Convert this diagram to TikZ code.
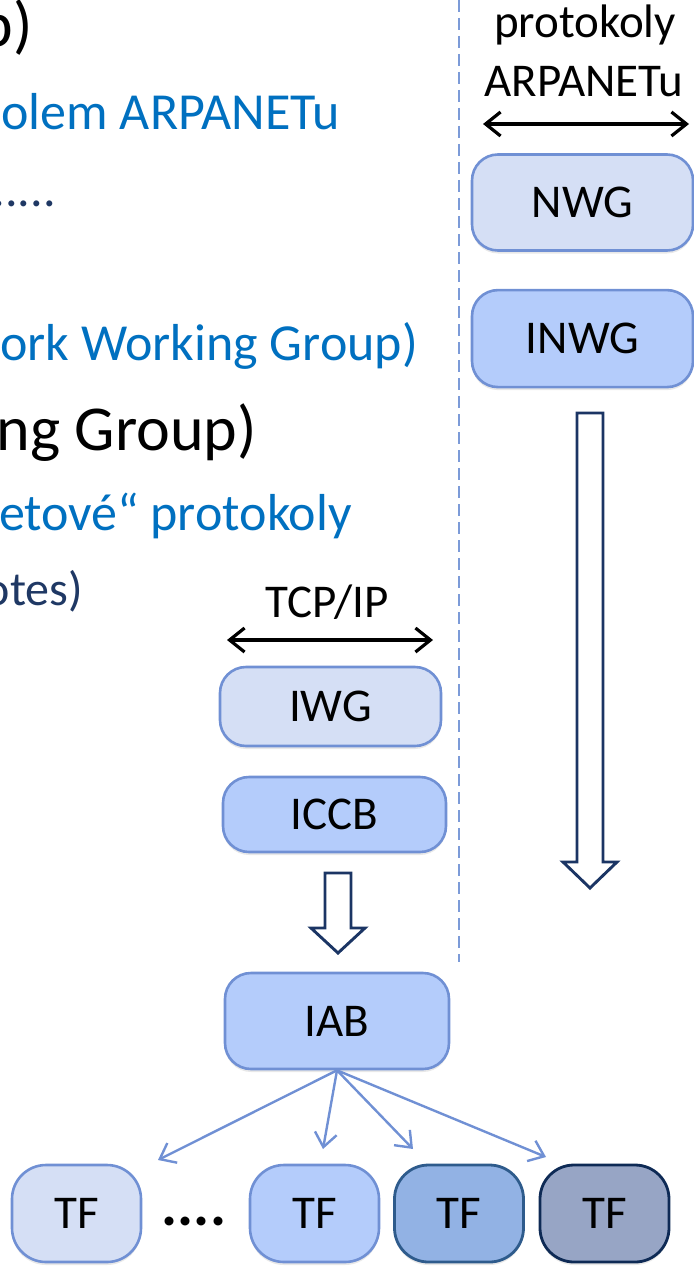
\documentclass[tikz,border=0pt]{standalone}
\usepackage{fontspec}
\setmainfont{Carlito}
\usetikzlibrary{positioning, arrows.meta, shadows}

\definecolor{boxlight}{HTML}{D5DFF5}
\definecolor{boxmed}{HTML}{B4CCFB}
\definecolor{boxline}{HTML}{7090D4}
\definecolor{tfdark}{HTML}{92B2E4}
\definecolor{tfdarkline}{HTML}{2E5B8C}
\definecolor{tfgrey}{HTML}{97A5C5}
\definecolor{tfgreyline}{HTML}{0E2A55}
\definecolor{arrnavy}{HTML}{1B3564}
\definecolor{sepline}{HTML}{7C9BD8}
\definecolor{slideblue}{HTML}{0070C0}
\definecolor{slidenavy}{HTML}{1F3864}

\begin{document}
\begin{tikzpicture}[x=1pt, y=-1pt,
		box/.style={draw=boxline, line width=2.6pt, rounded corners=26pt, inner sep=0pt,
			font=\fontsize{47}{52}\selectfont,
			drop shadow={opacity=0.18, shadow xshift=0pt, shadow yshift=-3pt}},
		tf/.style={box, minimum width=129pt, minimum height=97pt, rounded corners=34pt},
		bigtxt/.style={inner sep=0pt, anchor=base east, font=\fontsize{64}{70}\selectfont},
		subtxt/.style={inner sep=0pt, anchor=base east, text=slideblue, font=\fontsize{52}{60}\selectfont},
		notetxt/.style={inner sep=0pt, anchor=base east, text=slidenavy, font=\fontsize{48}{56}\selectfont},
		lbl/.style={inner sep=0pt, anchor=base, font=\fontsize{47}{52}\selectfont},
		dbl/.style={<->, >={Straight Barb[length=15pt, width=24pt]}, line width=3.2pt},
		fan/.style={->, >={Straight Barb[length=14pt, width=22pt]}, draw=boxline, line width=2.4pt},
		hollow/.style={draw=arrnavy, fill=white, line width=2.9pt, line join=miter}]
	\useasboundingbox (0,0) rectangle (693,1268);

	% cut-off slide text on the left
	\node[bigtxt]  (t1) at (33,47)   {p)};
	\node[subtxt]  (t2) at (340,130) {olem ARPANETu};
	\node[notetxt, font=\fontsize{50}{56}\selectfont] (t3) at (56,206) {......};
	\node[subtxt]  (t4) at (418,360) {ork Working Group)};
	\node[bigtxt]  (t5) at (257,450) {ng Group)};
	\node[subtxt]  (t6) at (352,530) {etové“ protokoly};
	\node[notetxt] (t7) at (83,605)  {otes)};

	\draw[sepline, dashed, dash pattern=on 12pt off 6pt, line width=2.8pt] (459,0) -- (459,962);

	% right column
	\node[lbl] (proto) at (585,38) {protokoly};
	\node[lbl] (arpa)  at (584,97) {ARPANETu};
	\coordinate (pl) at (483,124);
	\coordinate (pr) at (689,124);
	\draw[dbl] (pl) -- (pr);

	\node[box, fill=boxlight, minimum width=221pt, minimum height=96pt] (nwg) at (582.5,202.5) {NWG};
	\node[box, fill=boxmed, minimum width=221pt, minimum height=97pt, below=37pt of nwg] (inwg) {INWG};
	\draw[hollow] (577,413) -- (603,413) -- (603,862) -- (617,862) -- (590,888) -- (563,862) -- (577,862) -- cycle;

	% middle column
	\node[lbl] (tcp) at (327.5,617) {TCP/IP};
	\coordinate (ml) at (227,640);
	\coordinate (mr) at (433,640);
	\draw[dbl] (ml) -- (mr);

	\node[box, fill=boxlight, minimum width=221pt, minimum height=79pt] (iwg)  at (330.5,706.5) {IWG};
	\node[box, fill=boxmed, minimum width=223pt, minimum height=75pt] (iccb) at (334.5,814.5) {ICCB};
	\draw[hollow] (325,873) -- (351,873) -- (351,928) -- (365,928) -- (338,953) -- (311,928) -- (325,928) -- cycle;
	\node[box, fill=boxmed, minimum width=224pt, minimum height=96pt] (iab) at (337,1021) {IAB};

	% task forces
	\node[tf, fill=boxlight] (tf1) at (76.5,1213.5) {TF};
	\node[tf, fill=boxmed]   (tf2) at (314.5,1213.5) {TF};
	\node[tf, fill=tfdark, draw=tfdarkline, line width=2.8pt] (tf3) at (459,1213.5) {TF};
	\node[tf, fill=tfgrey, draw=tfgreyline, line width=2.8pt] (tf4) at (604.5,1213.5) {TF};
	\node[lbl, font=\bfseries\fontsize{60}{60}\selectfont] (more) at (194,1225) {....};

	\coordinate (a1) at (158,1160);
	\coordinate (a2) at (323,1149);
	\coordinate (a3) at (413,1149);
	\coordinate (a4) at (546,1157);
	\foreach \tip in {a1, a2, a3, a4}
		\draw[fan] (iab.south) -- (\tip);
\end{tikzpicture}
\end{document}
